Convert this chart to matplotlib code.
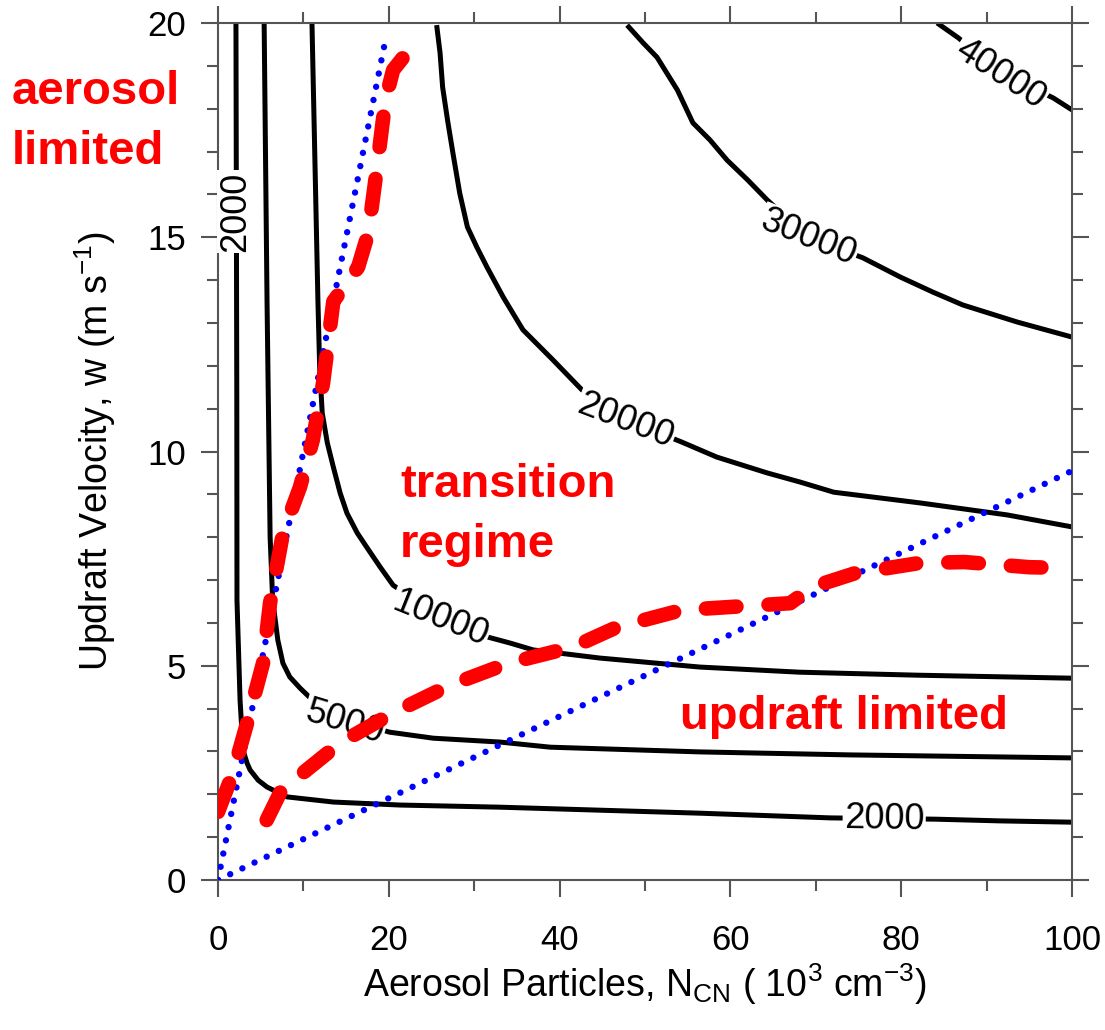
import matplotlib
matplotlib.use('Agg')
import matplotlib.pyplot as plt
from matplotlib.ticker import MultipleLocator

plt.rcParams['font.family'] = ['Liberation Sans', 'DejaVu Sans']
plt.rcParams['mathtext.fontset'] = 'custom'
plt.rcParams['mathtext.rm'] = 'Liberation Sans'

# contour lines (N_CN in 10^3 cm^-3, w in m/s)
c2000_x = [2.1, 2.2, 2.22, 2.58, 2.93, 3.4, 3.75, 4.7, 5.74, 8.08, 13.5, 21.3, 33.0, 44.7, 56.4, 71.7, 84.0, 91.6, 100]
c2000_y = [20, 11.2, 6.53, 4.2, 3.03, 2.73, 2.57, 2.33, 2.17, 1.94, 1.82, 1.75, 1.70, 1.63, 1.56, 1.45, 1.42, 1.38, 1.35]
c5000_x = [5.4, 5.74, 6.1, 6.4, 6.7, 7.0, 7.6, 8.4, 9.6, 10.8, 14.8, 20.1, 25.2, 33.0, 38.9, 56.4, 74.0, 100]
c5000_y = [20, 13.5, 8.0, 6.53, 6.07, 5.6, 5.06, 4.74, 4.48, 4.25, 3.75, 3.45, 3.31, 3.22, 3.10, 2.99, 2.92, 2.85]
c10000_x = [11.0, 11.7, 11.9, 12.2, 12.8, 13.5, 14.3, 15.1, 16.3, 17.4, 19.0, 20.5, 25.6,
            29.9, 34.2, 36.9, 44.7, 56.4, 68.1, 81.9, 100]
c10000_y = [20, 13.5, 11.97, 10.9, 10.2, 9.64, 9.03, 8.56, 8.1, 7.77, 7.3, 6.88, 6.2,
            5.76, 5.53, 5.37, 5.18, 4.97, 4.85, 4.78, 4.71]
c20000_x = [25.6, 26.0, 26.3, 26.9, 27.5, 28.3, 29.2, 30.3, 31.5, 33.4, 35.7, 39.2, 42.6, 47.7,
            54.3, 58.4, 64.3, 68.1, 72.1, 82.2, 92.4, 100]
c20000_y = [19.95, 19.3, 18.5, 17.7, 16.97, 16.03, 15.24, 14.77, 14.3, 13.6, 12.84, 12.14, 11.44, 10.75,
            10.22, 9.87, 9.50, 9.29, 9.05, 8.80, 8.52, 8.24]
c30000_x = [47.9, 49.8, 51.4, 53.8, 55.6, 57.6, 59.6, 62.0, 64.3, 69.1, 75.5, 79.9, 83.7, 87.2, 93.6, 100]
c30000_y = [19.95, 19.53, 19.2, 18.43, 17.67, 17.27, 16.8, 16.34, 15.87, 15.0, 14.52, 14.07, 13.72, 13.42, 13.02, 12.67]
c40000_x = [84.2, 86.7, 91.6, 97.8, 100]
c40000_y = [20, 19.65, 18.85, 18.25, 17.97]

contours = [(c2000_x, c2000_y), (c5000_x, c5000_y), (c10000_x, c10000_y),
            (c20000_x, c20000_y), (c30000_x, c30000_y), (c40000_x, c40000_y)]

# contour labels: text, x, y, rotation
label_text = ['2000', '2000', '5000', '10000', '20000', '30000', '40000']
label_x = [2.1, 78.0, 14.8, 26.0, 47.7, 69.1, 91.6]
label_y = [15.6, 1.42, 3.68, 6.1, 10.7, 14.98, 18.8]
label_rot = [90, -1, -17, -22, -21, -22, -33]

# regime boundaries (red dashed)
red1_x = [0.0, 1.76, 3.40, 5.27, 6.09, 7.61, 9.6, 11.1, 12.3, 13.5, 16.4, 17.6, 18.6, 19.6, 20.5, 23.3]
red1_y = [1.59, 2.50, 3.66, 5.06, 6.46, 8.10, 9.17, 10.27, 11.6, 13.5, 14.3, 15.1, 16.6, 18.2, 18.9, 19.6]
red2_x = [5.7, 7.6, 9.95, 14.3, 20.5, 27.2, 34.0, 41.6, 46.7, 54.3, 67.0, 69.6, 74.6, 82.2, 87.4, 95.0, 100]
red2_y = [1.40, 2.17, 2.50, 3.20, 3.90, 4.55, 5.06, 5.44, 5.90, 6.30, 6.46, 6.84, 7.16, 7.40, 7.42, 7.30, 7.28]

# w/N_CN ratio lines (blue dotted)
blue1_x = [0, 19.6]
blue1_y = [0, 19.6]
blue2_x = [0, 100]
blue2_y = [0, 9.55]

fig = plt.figure(figsize=(11.05, 10.3), dpi=100)
ax = fig.add_axes([0.1973, 0.1456, 0.7729, 0.8321])

for cx, cy in contours:
    ax.plot(cx, cy, color='black', lw=3.6, zorder=2, solid_capstyle='butt', solid_joinstyle='round')

for t, lx, ly, r in zip(label_text, label_x, label_y, label_rot):
    ax.text(lx, ly, t, rotation=r, ha='center', va='center', fontsize=26,
            rotation_mode='anchor', zorder=3,
            bbox=dict(fc='white', ec='none', pad=1))

for bx, by in [(blue1_x, blue1_y), (blue2_x, blue2_y)]:
    ax.plot(bx, by, color='#0000ff', lw=4.6, linestyle=(0, (0.01, 2.1)),
            dash_capstyle='round', zorder=4)
for rx, ry in [(red1_x, red1_y), (red2_x, red2_y)]:
    ax.plot(rx, ry, color='#ff0000', lw=10.5, linestyle=(0, (2.1, 2.2)),
            dash_capstyle='round', zorder=5)

ax.set_xlim(0, 100)
ax.set_ylim(0, 20)
ax.xaxis.set_major_locator(MultipleLocator(20))
ax.xaxis.set_minor_locator(MultipleLocator(10))
ax.yaxis.set_major_locator(MultipleLocator(5))
ax.yaxis.set_minor_locator(MultipleLocator(1))
for s in ax.spines.values():
    s.set_color('#555555')
    s.set_linewidth(1.5)
ax.tick_params(which='both', direction='out', top=True, right=True,
               color='#555555', width=1.5, labelsize=25)
ax.tick_params(which='major', length=12)
ax.tick_params(which='minor', length=8)
ax.tick_params(axis='x', pad=20)
ax.tick_params(axis='y', pad=11)

ax.set_xlabel(r'Aerosol Particles, N$_{\mathregular{CN}}$ ( 10$^{\mathregular{3}}$ cm$^{\mathregular{-3}}$)',
              fontsize=27)
ax.xaxis.set_label_coords(0.5, -0.095)
ax.set_ylabel(r'Updraft Velocity, w (m s$^{\mathregular{-1}}$)', fontsize=27)
ax.yaxis.set_label_coords(-0.117, 0.5)

red_kw = dict(color='#ff0000', fontsize=34, fontweight='bold', va='center', ha='left')
fig.text(12 / 1105, 1 - 92 / 1030, 'aerosol', **red_kw)
fig.text(12 / 1105, 1 - 152 / 1030, 'limited', **red_kw)
fig.text(400 / 1105, 1 - 485 / 1030, 'transition', **red_kw)
fig.text(400 / 1105, 1 - 545 / 1030, 'regime', **red_kw)
fig.text(680 / 1105, 1 - 717 / 1030, 'updraft limited', **red_kw)

fig.savefig('out.png', dpi=100)
